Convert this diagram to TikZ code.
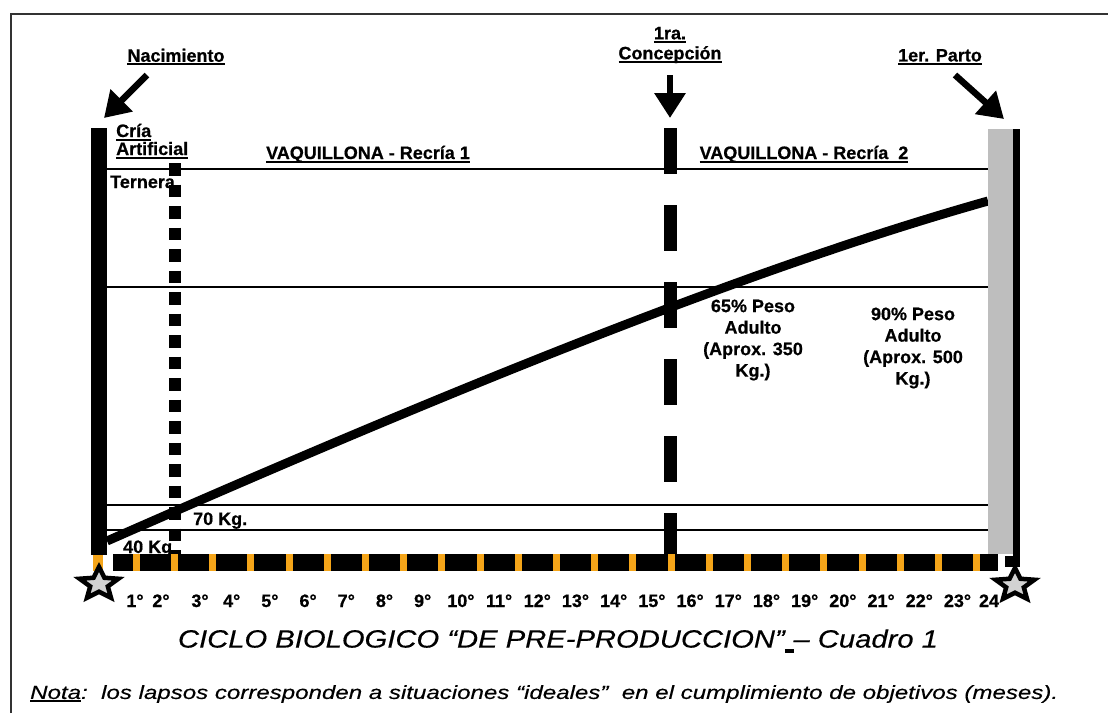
\documentclass[tikz,border=0pt]{standalone}
\usepackage{fontspec}
\setmainfont{Liberation Sans}
\newfontfamily\heavyfont[FakeBold=0.6]{Liberation Sans Bold}
\newfontfamily\titlefont[FakeBold=0.3]{Liberation Sans Italic}
\usepackage{graphicx}
\usetikzlibrary{shapes.geometric,arrows.meta}
\definecolor{orng}{RGB}{245,165,25}
\definecolor{barg}{RGB}{190,190,190}
\newcommand\myul[1]{\setbox0\hbox{#1}\rlap{\rule[-3.5pt]{\wd0}{2pt}}\box0}
\newcommand\ulsp{\rlap{\rule[-5pt]{0.3em}{3.5pt}}\hspace{0.3em}}
\begin{document}
\begin{tikzpicture}[x=1pt,y=-1pt,
  lbl/.style={inner sep=0pt,font=\fontsize{18}{21}\heavyfont},
  hline/.style={line width=2.4pt},
  bigarrow/.style={line width=6.5pt,-{Triangle[length=25pt,width=30pt]}},
  starnode/.style={star,star points=5,star point ratio=2.2,minimum size=34pt,inner sep=0pt,draw,line width=4.5pt,fill=gray!35,xscale=1.2,transform shape},
  month/.style={inner sep=0pt,anchor=base,font=\fontsize{18}{21}\heavyfont}]
\useasboundingbox (0,0) rectangle (1108,713);
% frame
\draw[line width=2.4pt,black!80] (11,713) -- (11,14) -- (1108,14);
% horizontal lines
\foreach \yy in {169,287,505,530} \draw[hline] (107,\yy) -- (988,\yy);
% labels under curve
\node[lbl,anchor=base west] (ternera) at (110,188) {Ternera};
\node[lbl,anchor=base west] (k70) at (193,525) {70 Kg.};
\node[lbl,anchor=base west] (k40) at (123,553) {40 Kg.};
% dotted Ternera line
\draw[line width=12.5pt,dash pattern=on 12.5pt off 9pt] (175,163) -- (175,556);
% concepcion dashed bar
\draw[line width=13pt,dash pattern=on 46pt off 31pt] (670,128) -- (670,556);
% growth curve
\draw[line width=9pt] (107,541) .. controls (450,390) and (750,268) .. (988,201);
% left bar
\fill (91,128) rectangle (107,555);
\fill[orng] (93,555) rectangle (103,571);
% right bars
\fill[barg] (988,129) rectangle (1013,554);
\fill (1013,129) rectangle (1020,567);
\fill (1005,556) rectangle (1020,567);
% bottom time bar
\fill (113,554) rectangle (998,571);
\foreach \k in {1,...,23} \fill[orng] ({98+38.2*\k-3.5},554) rectangle ({98+38.2*\k+3.5},571);
% stars
\node[starnode] (s1) at (99,584) {};
\node[starnode] (s2) at (1015,585) {};
% top labels and arrows
\node[lbl] (nac) at (176,57) {\myul{Nacimiento}};
\coordinate (nacA) at (147,75);
\coordinate (nacB) at (104,118);
\draw[bigarrow] (nacA) -- (nacB);
\node[lbl,align=center,font=\fontsize{18}{20}\heavyfont] (conc) at (670,45) {\myul{1ra.}\\\myul{Concepción}};
\coordinate (concA) at (670,75);
\coordinate (concB) at (670,118);
\draw[bigarrow] (concA) -- (concB);
\node[lbl] (parto) at (940,57) {\myul{1er. Parto}};
\coordinate (partA) at (955,75);
\coordinate (partB) at (1004,119);
\draw[bigarrow] (partA) -- (partB);
% header labels
\node[lbl,anchor=base west] (cria) at (116,137) {\myul{Cría}};
\node[lbl,anchor=base west] (artif) at (116,155) {\myul{Artificial}};
\node[lbl,anchor=base] (rec1) at (368,159) {\myul{VAQUILLONA - Recría 1}};
\node[lbl,anchor=base] (rec2) at (804,159) {\myul{VAQUILLONA - Recría\ \ 2}};
% weight notes
\node[lbl,align=center,font=\fontsize{18}{21.5}\heavyfont] (p65) at (753,340) {65\% Peso\\Adulto\\(Aprox. 350\\Kg.)};
\node[lbl,align=center,font=\fontsize{18}{21.5}\heavyfont] (p90) at (913,348) {90\% Peso\\Adulto\\(Aprox. 500\\Kg.)};
% months
\node[month] (m1) at (135,607) {1°};
\node[month] (m2) at (161,607) {2°};
\node[month] (m3) at (200,607) {3°};
\foreach \k in {4,...,23} \node[month] (m\k) at ({98+38.2*(\k-0.5)},607) {\k°};
\node[month] (m24) at (989,607) {24};
% title and note
\node[inner sep=0pt,font=\fontsize{25}{30}\titlefont] (title) at (558,641) {\resizebox{760pt}{\height}{CICLO BIOLOGICO “DE PRE-PRODUCCION”\ulsp– Cuadro 1}};
\node[inner sep=0pt,anchor=west,font=\fontsize{19}{23}\titlefont] (nota) at (30,694) {\resizebox{1028pt}{\height}{\myul{Nota}:\ \ los lapsos corresponden a situaciones “ideales”\ \ en el cumplimiento de objetivos (meses).}};
\end{tikzpicture}
\end{document}
